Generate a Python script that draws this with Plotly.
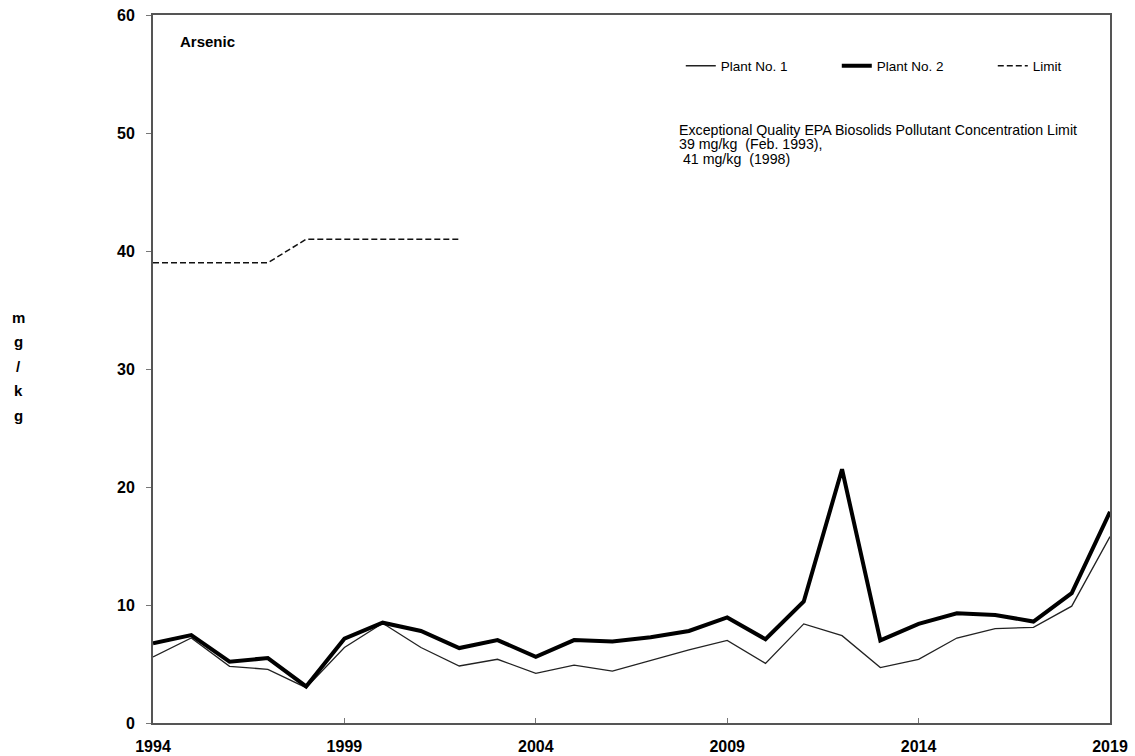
import plotly.graph_objects as go

years = list(range(1994, 2020))
plant1 = [5.6, 7.2, 4.8, 4.55, 3.0, 6.4, 8.45, 6.4, 4.83, 5.4, 4.2,
          4.9, 4.4, 5.3, 6.2, 7.0, 5.05, 8.4, 7.4, 4.7, 5.4, 7.2, 8.0, 8.1, 9.9, 15.8]
plant2 = [6.75, 7.45, 5.2, 5.5, 3.1, 7.15, 8.5, 7.8, 6.35, 7.03, 5.6,
          7.03, 6.9, 7.26, 7.8, 8.95, 7.1, 10.3, 21.5, 7.0, 8.4, 9.3, 9.15, 8.6, 11.0, 17.9]
limit_years = [1994, 1997, 1998, 2002]
limit_vals = [39, 39, 41, 41]
x_ticks = [1994, 1999, 2004, 2009, 2014, 2019]
y_ticks = [0, 10, 20, 30, 40, 50, 60]
note_lines = ["Exceptional Quality EPA Biosolids Pollutant Concentration Limit",
              "39 mg/kg  (Feb. 1993),",
              " 41 mg/kg  (1998)"]
y_title = "mg/kg"

FONT = "Liberation Sans, Arial, sans-serif"

fig = go.Figure()
fig.add_trace(go.Scatter(x=years, y=plant1, mode="lines", name="Plant No. 1",
                         line=dict(color="#222222", width=1.3)))
fig.add_trace(go.Scatter(x=years, y=plant2, mode="lines", name="Plant No. 2",
                         line=dict(color="#000000", width=4)))
fig.add_trace(go.Scatter(x=limit_years, y=limit_vals, mode="lines", name="Limit",
                         line=dict(color="#111111", width=1.5, dash="6px,3px")))

fig.update_layout(
    width=1135, height=756,
    margin=dict(l=153, r=25, t=15, b=33, autoexpand=False),
    paper_bgcolor="white", plot_bgcolor="white",
    font=dict(family=FONT, color="black"),
    legend=dict(orientation="h", x=0.5515, y=0.928, xanchor="left", yanchor="middle",
                entrywidth=111, entrywidthmode="pixels", itemwidth=30,
                font=dict(size=13.5, family=FONT), bgcolor="rgba(0,0,0,0)"),
    xaxis=dict(range=[1994, 2019], tickvals=x_ticks, ticktext=[str(v) for v in x_ticks],
               showgrid=False, zeroline=False, showline=True, linecolor="#555555",
               linewidth=2, mirror=True, ticks="inside", ticklen=5, tickcolor="#777777",
               ticklabelstandoff=8,
               tickfont=dict(size=16, family=FONT, weight="bold")),
    yaxis=dict(range=[0, 60], tickvals=y_ticks, showgrid=False, zeroline=False,
               showline=True, linecolor="#555555", linewidth=2, mirror=True,
               ticks="outside", ticklen=5, tickcolor="#777777", ticklabelstandoff=8,
               tickfont=dict(size=16, family=FONT, weight="bold")),
    showlegend=True,
)

fig.add_annotation(text="<b>Arsenic</b>", xref="paper", yref="paper",
                   x=0.026, y=0.962, xanchor="left", yanchor="middle",
                   showarrow=False, font=dict(size=15, family=FONT))
for i, line in enumerate(note_lines):
    fig.add_annotation(text=line.replace(" ", "&nbsp;") if line.startswith(" ") else line,
                       xref="paper", yref="paper", x=0.5475, y=0.8376 - i * 0.0205,
                       xanchor="left", yanchor="middle", align="left", showarrow=False,
                       font=dict(size=14.2, family=FONT))
for i, ch in enumerate(y_title):
    fig.add_annotation(text=f"<b>{ch}</b>", xref="paper", yref="paper",
                       x=-0.141, y=0.573 - i * 0.0345, xanchor="center", yanchor="middle",
                       showarrow=False, font=dict(size=15, family=FONT))

fig.write_html("out.html", config={"displayModeBar": False},
               post_script="document.body.style.margin='0';")
